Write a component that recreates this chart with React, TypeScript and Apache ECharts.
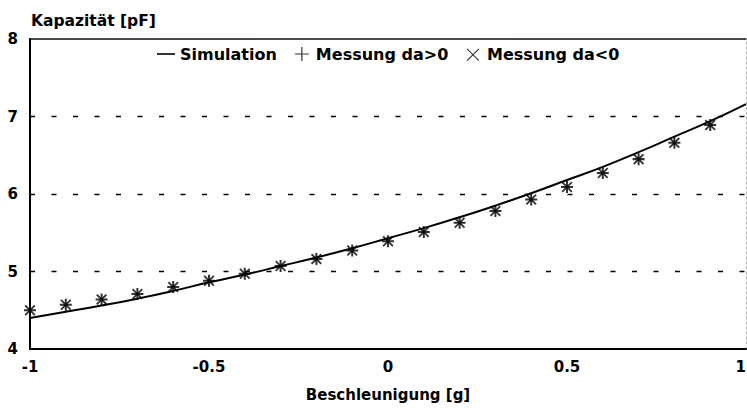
import React, { useEffect, useRef } from "react";
import * as echarts from "echarts";

const xValues = [-1, -0.9, -0.8, -0.7, -0.6, -0.5, -0.4, -0.3, -0.2, -0.1, 0, 0.1, 0.2, 0.3, 0.4, 0.5, 0.6, 0.7, 0.8, 0.9, 1];
const simulation = [4.4, 4.48, 4.56, 4.65, 4.75, 4.86, 4.96, 5.07, 5.18, 5.3, 5.43, 5.56, 5.7, 5.85, 6.01, 6.18, 6.35, 6.54, 6.74, 6.94, 7.16];
const measXValues = [-1, -0.9, -0.8, -0.7, -0.6, -0.5, -0.4, -0.3, -0.2, -0.1, 0, 0.1, 0.2, 0.3, 0.4, 0.5, 0.6, 0.7, 0.8, 0.9];
const messungPos = [4.5, 4.57, 4.64, 4.71, 4.8, 4.88, 4.97, 5.07, 5.16, 5.27, 5.39, 5.51, 5.63, 5.78, 5.93, 6.09, 6.27, 6.45, 6.66, 6.89];
const messungNeg = [4.5, 4.57, 4.64, 4.71, 4.8, 4.88, 4.97, 5.07, 5.16, 5.27, 5.39, 5.51, 5.63, 5.78, 5.93, 6.09, 6.27, 6.45, 6.66, 6.89];
const xTicks = { min: -1, max: 1, interval: 0.5 };
const yTicks = { min: 4, max: 8, interval: 1 };

const FONT = "DejaVu Sans";
const PLUS = "path://M5,0H7V12H5ZM0,5H12V7H0Z";
const CROSS = "path://M0,1.4L1.4,0L6,4.6L10.6,0L12,1.4L7.4,6L12,10.6L10.6,12L6,7.4L1.4,12L0,10.6L4.6,6Z";
const PLUS_THIN = "path://M0,0M18,14M8.4,0H9.6V14H8.4ZM2,6.4H16V7.6H2Z";
const CROSS_THIN = "path://M0,0M18,14M2.5,2.3L3.3,1.5L9,7.2L14.7,1.5L15.5,2.3L9.8,8L15.5,13.7L14.7,14.5L9,8.8L3.3,14.5L2.5,13.7L8.2,8Z";
const LINE_ICON = "path://M0,0M18,14M0,6.2H18V7.8H0Z";

export default function App() {
  const ref = useRef<HTMLDivElement>(null);
  useEffect(() => {
    if (!ref.current) return;
    const chart = echarts.init(ref.current, undefined, { renderer: "svg" });
    const labelStyle = { fontFamily: FONT, fontWeight: "bold" as const, fontSize: 15, color: "#000" };
    chart.setOption({
      animation: false,
      backgroundColor: "#fff",
      title: {
        text: "Kapazität [pF]",
        left: 31,
        top: 13,
        padding: 0,
        textStyle: { fontFamily: FONT, fontWeight: "bold", fontSize: 15.5, color: "#000" },
      },
      legend: {
        left: 152,
        top: 41,
        itemWidth: 18,
        itemHeight: 14,
        itemGap: 16,
        textStyle: { fontFamily: FONT, fontWeight: "bold", fontSize: 16, color: "#000" },
        data: [
          { name: "Simulation", icon: LINE_ICON, itemStyle: { color: "#000" } },
          { name: "Messung da>0", icon: PLUS_THIN, itemStyle: { color: "#000" } },
          { name: "Messung da<0", icon: CROSS_THIN, itemStyle: { color: "#000" } },
        ],
      },
      grid: { left: 30, right: 1, top: 39, bottom: 59, containLabel: false, outerBoundsMode: "none" },
      xAxis: [
        {
          type: "value",
          min: xTicks.min,
          max: xTicks.max,
          interval: xTicks.interval,
          name: "Beschleunigung [g]",
          nameLocation: "middle",
          nameGap: 38,
          nameTextStyle: labelStyle,
          axisLine: { show: true, onZero: false, lineStyle: { color: "#000", width: 2 } },
          axisTick: { show: false },
          axisLabel: { ...labelStyle, margin: 10, alignMaxLabel: "right" },
          splitLine: { show: false },
        },
        {
          type: "value",
          position: "top",
          min: xTicks.min,
          max: xTicks.max,
          interval: xTicks.interval,
          axisLine: { show: true, onZero: false, lineStyle: { color: "#111", width: 1.5 } },
          axisTick: { show: false },
          axisLabel: { show: false },
          splitLine: { show: false },
        },
      ],
      yAxis: [
        {
          type: "value",
          min: yTicks.min,
          max: yTicks.max,
          interval: yTicks.interval,
          axisLine: { show: true, onZero: false, lineStyle: { color: "#000", width: 2 } },
          axisTick: { show: false },
          axisLabel: { ...labelStyle, margin: 12 },
          splitLine: {
            show: true,
            showMinLine: false,
            showMaxLine: false,
            lineStyle: { color: "#000", width: 1.3, type: [5, 16.5] },
          },
        },
        {
          type: "value",
          position: "right",
          min: yTicks.min,
          max: yTicks.max,
          interval: yTicks.interval,
          axisLine: { show: true, onZero: false, lineStyle: { color: "#aaa", width: 1, type: [2, 3] } },
          axisTick: { show: false },
          axisLabel: { show: false },
          splitLine: { show: false },
        },
      ],
      series: [
        {
          name: "Simulation",
          type: "line",
          smooth: true,
          symbol: "none",
          lineStyle: { color: "#000", width: 2 },
          itemStyle: { color: "#000" },
          data: xValues.map((x, i) => [x, simulation[i]]),
          z: 3,
        },
        {
          name: "Messung da>0",
          type: "scatter",
          symbol: PLUS,
          symbolSize: 12,
          itemStyle: { color: "#000" },
          data: measXValues.map((x, i) => [x, messungPos[i]]),
          z: 4,
        },
        {
          name: "Messung da<0",
          type: "scatter",
          symbol: CROSS,
          symbolSize: 11,
          itemStyle: { color: "#000" },
          data: measXValues.map((x, i) => [x, messungNeg[i]]),
          z: 4,
        },
      ],
    });
    return () => chart.dispose();
  }, []);
  return (
    <div
      ref={ref}
      style={{ position: "fixed", left: 0, top: 0, width: 747, height: 408, background: "#fff" }}
    />
  );
}
